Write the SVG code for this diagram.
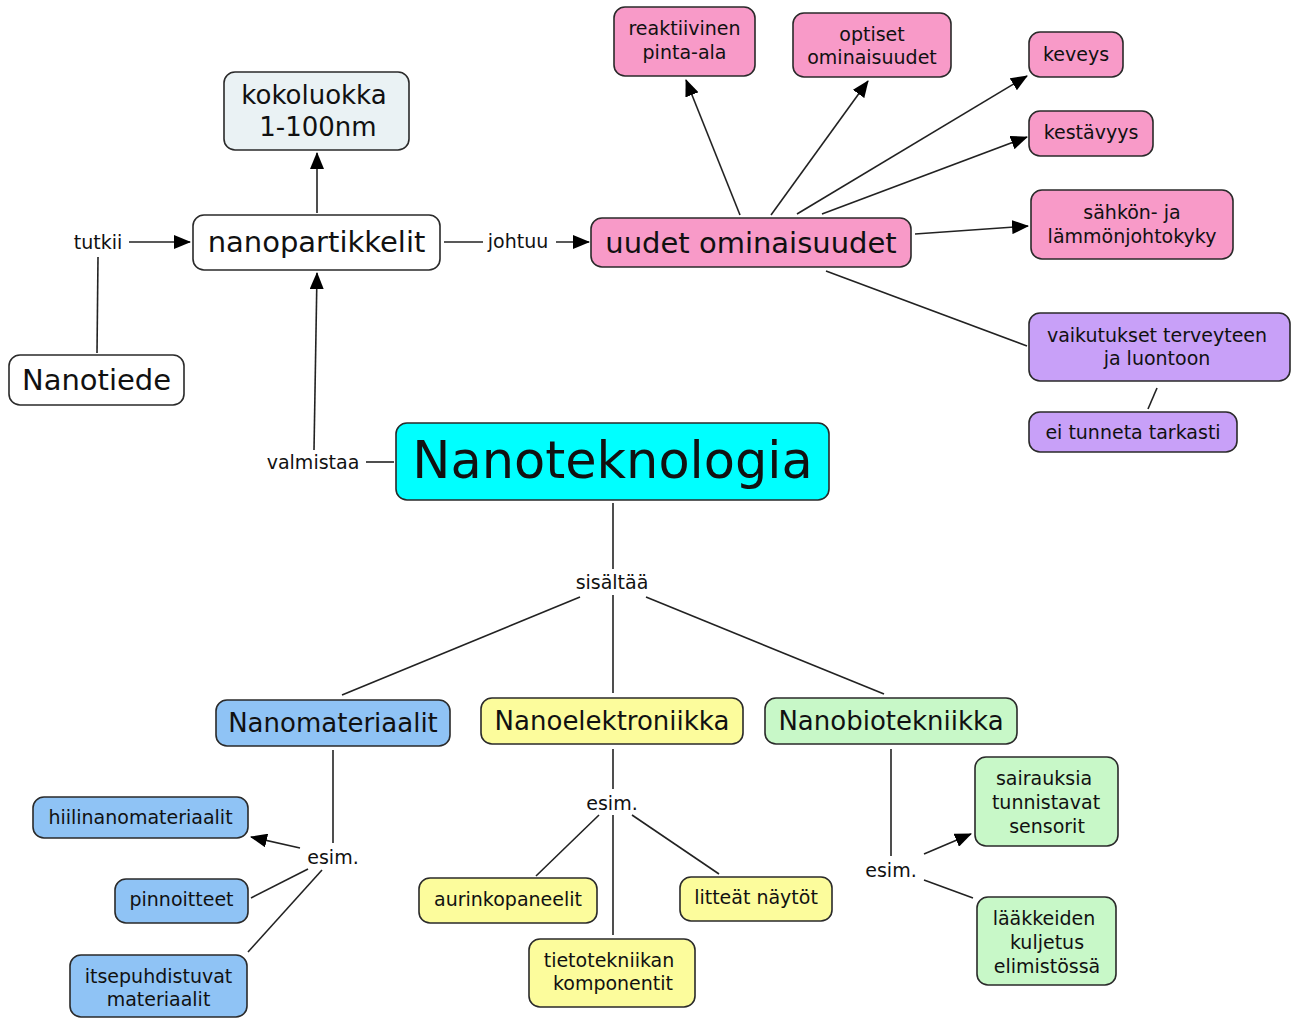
<svg xmlns="http://www.w3.org/2000/svg" width="1292" height="1018" viewBox="0 0 1292 1018">
<style>
text{font-family:"DejaVu Sans",Verdana,sans-serif;fill:#111;text-anchor:middle}
.n rect{stroke:#2a2a2a;stroke-width:1.6}
.s{font-size:19px}
.m{font-size:26px}
.b{font-size:29px}
.w{fill:#fff}.g{fill:#eaf2f4}.p{fill:#f89ac8}.v{fill:#c8a0f8}.c{fill:#00ffff}.bl{fill:#8fc3f5}.y{fill:#fcfc9c}.gr{fill:#c8f8c8}
#conn line{stroke:#222;stroke-width:1.6}
</style>
<defs>
<marker id="ah" markerUnits="userSpaceOnUse" markerWidth="17" markerHeight="14" refX="16" refY="7" orient="auto"><path d="M0,0 L17,7 L0,14 z" fill="#000"/></marker>
</defs>
<rect width="1292" height="1018" fill="#fff"/>
<g id="conn">
<line x1="97" y1="353" x2="98" y2="257"/>
<line x1="129" y1="242" x2="190" y2="242" marker-end="url(#ah)"/>
<line x1="317" y1="213" x2="317" y2="153" marker-end="url(#ah)"/>
<line x1="444" y1="242" x2="483" y2="242"/>
<line x1="556" y1="242" x2="589" y2="242" marker-end="url(#ah)"/>
<line x1="740" y1="215" x2="686" y2="80" marker-end="url(#ah)"/>
<line x1="771" y1="215" x2="868" y2="81" marker-end="url(#ah)"/>
<line x1="797" y1="214" x2="1027" y2="76" marker-end="url(#ah)"/>
<line x1="822" y1="214" x2="1027" y2="137" marker-end="url(#ah)"/>
<line x1="915" y1="234" x2="1028" y2="226" marker-end="url(#ah)"/>
<line x1="826" y1="271" x2="1027" y2="346"/>
<line x1="1157" y1="388" x2="1148" y2="409"/>
<line x1="394" y1="462" x2="366" y2="462"/>
<line x1="314" y1="450" x2="317" y2="273" marker-end="url(#ah)"/>
<line x1="613" y1="503" x2="613" y2="569"/>
<line x1="580" y1="597" x2="342" y2="695"/>
<line x1="613" y1="595" x2="613" y2="693"/>
<line x1="646" y1="597" x2="884" y2="694"/>
<line x1="333" y1="750" x2="333" y2="843"/>
<line x1="300" y1="848" x2="251" y2="837" marker-end="url(#ah)"/>
<line x1="308" y1="869" x2="251" y2="898"/>
<line x1="322" y1="870" x2="248" y2="952"/>
<line x1="613" y1="749" x2="613" y2="789"/>
<line x1="599" y1="815" x2="536" y2="876"/>
<line x1="613" y1="815" x2="613" y2="935"/>
<line x1="632" y1="815" x2="719" y2="874"/>
<line x1="891" y1="749" x2="891" y2="856"/>
<line x1="924" y1="854" x2="971" y2="834" marker-end="url(#ah)"/>
<line x1="924" y1="880" x2="973" y2="898"/>
<text class="s" x="98" y="249">tutkii</text>
<text class="s" x="518" y="248">johtuu</text>
<text class="s" x="313" y="469">valmistaa</text>
<text class="s" x="612" y="589">sisältää</text>
<text class="s" x="333" y="864">esim.</text>
<text class="s" x="612" y="810">esim.</text>
<text class="s" x="891" y="877">esim.</text>
</g>
<g id="kokoluokka" class="n"><rect class="g" x="224" y="72" width="185" height="78" rx="11"/><text class="m" x="314" y="104">kokoluokka</text><text class="m" x="318" y="136">1-100nm</text></g>
<g id="nanopartikkelit" class="n"><rect class="w" x="193" y="215" width="247" height="55" rx="11"/><text class="b" x="316.5" y="252">nanopartikkelit</text></g>
<g id="nanotiede" class="n"><rect class="w" x="9" y="355" width="175" height="50" rx="11"/><text class="b" x="96.5" y="390">Nanotiede</text></g>
<g id="uudet" class="n"><rect class="p" x="591" y="218" width="320" height="49" rx="11"/><text class="b" x="751" y="253">uudet ominaisuudet</text></g>
<g id="reaktiivinen" class="n"><rect class="p" x="614" y="7" width="141" height="69" rx="11"/><text class="s" x="684.5" y="35">reaktiivinen</text><text class="s" x="684.5" y="59">pinta-ala</text></g>
<g id="optiset" class="n"><rect class="p" x="793" y="13" width="158" height="64" rx="11"/><text class="s" x="872" y="41">optiset</text><text class="s" x="872" y="64">ominaisuudet</text></g>
<g id="keveys" class="n"><rect class="p" x="1029" y="32" width="94" height="45" rx="11"/><text class="s" x="1076" y="61">keveys</text></g>
<g id="kestavyys" class="n"><rect class="p" x="1029" y="111" width="124" height="45" rx="11"/><text class="s" x="1091" y="139">kestävyys</text></g>
<g id="sahkon" class="n"><rect class="p" x="1031" y="190" width="202" height="69" rx="11"/><text class="s" x="1132" y="219">sähkön- ja</text><text class="s" x="1132" y="243">lämmönjohtokyky</text></g>
<g id="vaikutukset" class="n"><rect class="v" x="1029" y="313" width="261" height="68" rx="11"/><text class="s" x="1157" y="342">vaikutukset terveyteen</text><text class="s" x="1157" y="365">ja luontoon</text></g>
<g id="eitunneta" class="n"><rect class="v" x="1029" y="412" width="208" height="40" rx="11"/><text class="s" x="1133" y="439">ei tunneta tarkasti</text></g>
<g id="nanoteknologia" class="n"><rect class="c" x="396" y="423" width="433" height="77" rx="11"/><text x="612.5" y="478" style="font-size:51px">Nanoteknologia</text></g>
<g id="nanomateriaalit" class="n"><rect class="bl" x="216" y="700" width="234" height="46" rx="11"/><text class="m" x="333" y="732">Nanomateriaalit</text></g>
<g id="nanoelektroniikka" class="n"><rect class="y" x="481" y="698" width="262" height="46" rx="11"/><text class="m" x="612" y="730">Nanoelektroniikka</text></g>
<g id="nanobiotekniikka" class="n"><rect class="gr" x="765" y="698" width="252" height="46" rx="11"/><text class="m" x="891" y="730">Nanobiotekniikka</text></g>
<g id="hiili" class="n"><rect class="bl" x="33" y="797" width="215" height="41" rx="11"/><text class="s" x="140.5" y="824">hiilinanomateriaalit</text></g>
<g id="pinnoitteet" class="n"><rect class="bl" x="115" y="879" width="133" height="44" rx="11"/><text class="s" x="181.5" y="906">pinnoitteet</text></g>
<g id="itsepuhdistuvat" class="n"><rect class="bl" x="70" y="955" width="177" height="62" rx="11"/><text class="s" x="158.5" y="983">itsepuhdistuvat</text><text class="s" x="158.5" y="1006">materiaalit</text></g>
<g id="aurinkopaneelit" class="n"><rect class="y" x="419" y="878" width="178" height="45" rx="11"/><text class="s" x="508" y="906">aurinkopaneelit</text></g>
<g id="tietotekniikan" class="n"><rect class="y" x="529" y="939" width="166" height="68" rx="11"/><text class="s" x="609" y="967">tietotekniikan</text><text class="s" x="613" y="990">komponentit</text></g>
<g id="litteat" class="n"><rect class="y" x="680" y="877" width="152" height="44" rx="11"/><text class="s" x="756" y="904">litteät näytöt</text></g>
<g id="sairauksia" class="n"><rect class="gr" x="975" y="757" width="143" height="89" rx="11"/><text class="s" x="1044" y="785">sairauksia</text><text class="s" x="1046" y="809">tunnistavat</text><text class="s" x="1047" y="833">sensorit</text></g>
<g id="laakkeiden" class="n"><rect class="gr" x="977" y="897" width="139" height="88" rx="11"/><text class="s" x="1044" y="925">lääkkeiden</text><text class="s" x="1047" y="949">kuljetus</text><text class="s" x="1047" y="973">elimistössä</text></g>
</svg>
